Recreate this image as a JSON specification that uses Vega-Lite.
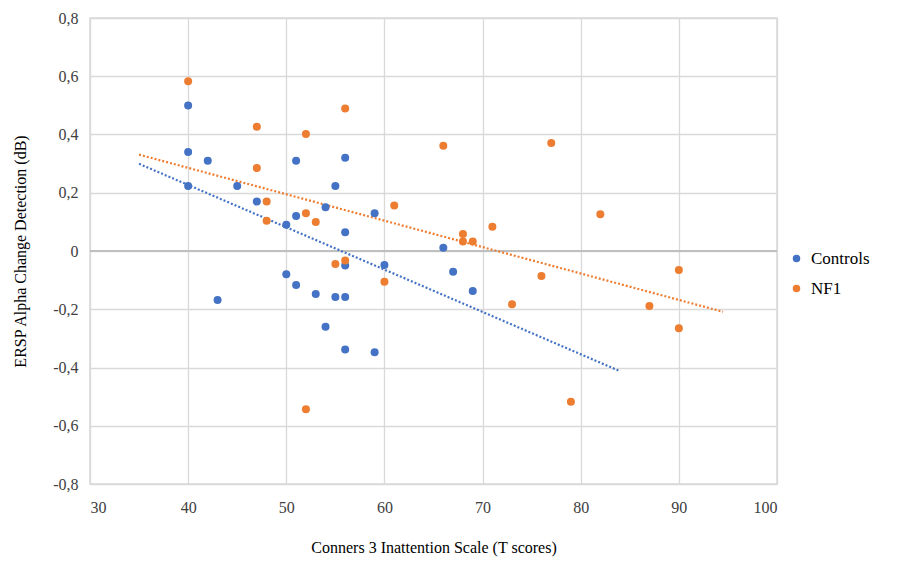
{
  "$schema": "https://vega.github.io/schema/vega-lite/v6.json",
  "width": 687,
  "height": 466,
  "autosize": "none",
  "padding": {"left": 90, "top": 18, "right": 142, "bottom": 80},
  "background": "white",
  "config": {
    "view": {"stroke": "#d9d9d9", "strokeWidth": 1.5},
    "font": "Liberation Serif",
    "style": {"guide-label": {"font": "Liberation Serif, Times New Roman, serif"}, "guide-title": {"font": "Liberation Serif, Times New Roman, serif"}},
    "axis": {"gridColor": "#d9d9d9", "gridWidth": 1.3, "domain": false, "ticks": false, "labelFont": "Liberation Serif, Times New Roman, serif", "titleFont": "Liberation Serif", "labelColor": "#404040", "titleColor": "#000000", "titleFontWeight": "normal"},
    "legend": {"labelFont": "Liberation Serif, Times New Roman, serif"}
  },
  "data": {
    "values": [
      {"group": "Controls", "x": 40, "y": 0.50},
      {"group": "Controls", "x": 40, "y": 0.34},
      {"group": "Controls", "x": 42, "y": 0.31},
      {"group": "Controls", "x": 40, "y": 0.223},
      {"group": "Controls", "x": 45, "y": 0.223},
      {"group": "Controls", "x": 47, "y": 0.17},
      {"group": "Controls", "x": 51, "y": 0.31},
      {"group": "Controls", "x": 56, "y": 0.32},
      {"group": "Controls", "x": 55, "y": 0.223},
      {"group": "Controls", "x": 54, "y": 0.15},
      {"group": "Controls", "x": 51, "y": 0.12},
      {"group": "Controls", "x": 50, "y": 0.09},
      {"group": "Controls", "x": 56, "y": 0.064},
      {"group": "Controls", "x": 59, "y": 0.13},
      {"group": "Controls", "x": 66, "y": 0.011},
      {"group": "Controls", "x": 56, "y": -0.05},
      {"group": "Controls", "x": 60, "y": -0.048},
      {"group": "Controls", "x": 50, "y": -0.08},
      {"group": "Controls", "x": 51, "y": -0.117},
      {"group": "Controls", "x": 53, "y": -0.148},
      {"group": "Controls", "x": 55, "y": -0.158},
      {"group": "Controls", "x": 56, "y": -0.158},
      {"group": "Controls", "x": 43, "y": -0.168},
      {"group": "Controls", "x": 54, "y": -0.26},
      {"group": "Controls", "x": 56, "y": -0.338},
      {"group": "Controls", "x": 59, "y": -0.348},
      {"group": "Controls", "x": 67, "y": -0.071},
      {"group": "Controls", "x": 69, "y": -0.137},
      {"group": "NF1", "x": 40, "y": 0.583},
      {"group": "NF1", "x": 47, "y": 0.427},
      {"group": "NF1", "x": 52, "y": 0.402},
      {"group": "NF1", "x": 56, "y": 0.489},
      {"group": "NF1", "x": 47, "y": 0.285},
      {"group": "NF1", "x": 48, "y": 0.17},
      {"group": "NF1", "x": 48, "y": 0.104},
      {"group": "NF1", "x": 52, "y": 0.13},
      {"group": "NF1", "x": 53, "y": 0.10},
      {"group": "NF1", "x": 61, "y": 0.156},
      {"group": "NF1", "x": 66, "y": 0.361},
      {"group": "NF1", "x": 77, "y": 0.371},
      {"group": "NF1", "x": 82, "y": 0.126},
      {"group": "NF1", "x": 71, "y": 0.083},
      {"group": "NF1", "x": 68, "y": 0.058},
      {"group": "NF1", "x": 68, "y": 0.033},
      {"group": "NF1", "x": 69, "y": 0.033},
      {"group": "NF1", "x": 55, "y": -0.045},
      {"group": "NF1", "x": 56, "y": -0.033},
      {"group": "NF1", "x": 60, "y": -0.106},
      {"group": "NF1", "x": 52, "y": -0.543},
      {"group": "NF1", "x": 90, "y": -0.065},
      {"group": "NF1", "x": 76, "y": -0.086},
      {"group": "NF1", "x": 73, "y": -0.183},
      {"group": "NF1", "x": 87, "y": -0.189},
      {"group": "NF1", "x": 90, "y": -0.265},
      {"group": "NF1", "x": 79, "y": -0.518}
    ]
  },
  "encoding": {
    "x": {
      "field": "x", "type": "quantitative",
      "scale": {"domain": [30, 100], "nice": false, "zero": false},
      "axis": {"values": [30, 40, 50, 60, 70, 80, 90, 100], "labelFont": "Liberation Serif, Times New Roman, serif", "labelFontSize": 16, "labelPadding": 15, "title": "Conners 3 Inattention Scale (T scores)", "titleFont": "Liberation Serif", "titleFontSize": 16, "titlePadding": 24}
    },
    "y": {
      "field": "y", "type": "quantitative",
      "scale": {"domain": [-0.8, 0.8], "nice": false, "zero": false},
      "axis": {"values": [-0.8, -0.6, -0.4, -0.2, 0, 0.2, 0.4, 0.6, 0.8], "labelFont": "Liberation Serif, Times New Roman, serif", "labelFontSize": 16, "labelPadding": 12, "labelExpr": "datum.value == 0 ? '0' : (datum.value < 0 ? '-' : '') + replace(format(abs(datum.value), '.1f'), '.', ',')", "title": "ERSP Alpha Change Detection (dB)", "titleFont": "Liberation Serif", "titleFontSize": 16, "titlePadding": 24}
    },
    "color": {
      "field": "group", "type": "nominal",
      "scale": {"domain": ["Controls", "NF1"], "range": ["#4472C4", "#ED7D31"]},
      "legend": {"title": null, "orient": "none", "legendX": 698, "legendY": 232, "symbolType": "circle", "symbolSize": 36, "labelFont": "Liberation Serif, Times New Roman, serif", "labelFontSize": 17, "labelColor": "#000000", "rowPadding": 12, "symbolOffset": 0, "labelOffset": 6}
    }
  },
  "layer": [
    {
      "mark": {"type": "rule", "color": "#bfbfbf", "strokeWidth": 1.3},
      "encoding": {"y": {"datum": 0}, "color": {"value": "#bfbfbf"}, "x": {"value": 0}, "x2": {"value": 687}}
    },
    {
      "transform": [
        {"filter": "datum.group == 'Controls'"},
        {"regression": "y", "on": "x", "groupby": ["group"], "extent": [35, 84]}
      ],
      "mark": {"type": "line", "strokeDash": [2, 2], "strokeWidth": 2.2}
    },
    {
      "transform": [
        {"filter": "datum.group == 'NF1'"},
        {"regression": "y", "on": "x", "groupby": ["group"], "extent": [35, 94.5]}
      ],
      "mark": {"type": "line", "strokeDash": [2, 2], "strokeWidth": 2.2}
    },
    {
      "mark": {"type": "circle", "size": 64, "opacity": 1}
    }
  ]
}
